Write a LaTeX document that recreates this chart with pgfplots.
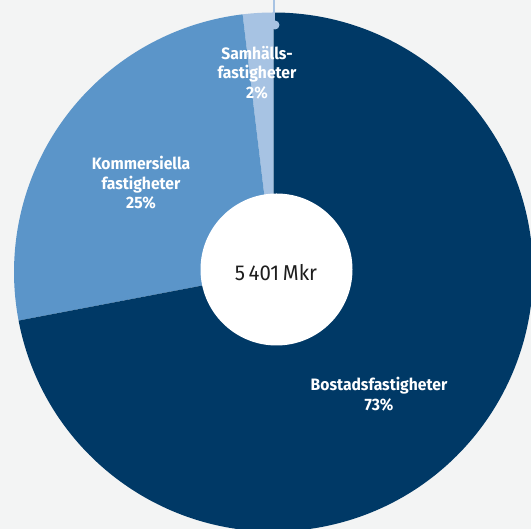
\documentclass[border=0pt]{standalone}
\usepackage{pgfplots}
\pgfplotsset{compat=1.18}
\usepackage{fontspec}
\setmainfont{Fira Sans}[FakeStretch=0.95]
\definecolor{navy}{HTML}{003966}
\definecolor{midblue}{HTML}{5B95C9}
\definecolor{lightblue}{HTML}{A7C3E3}
\definecolor{bg}{HTML}{F3F4F4}
\definecolor{ctext}{HTML}{1E1E1E}
% slice sizes (percent of the full circle)
\def\vS{1.9}   % Samhallsfastigheter
\def\vK{26.1}  % Kommersiella fastigheter
\def\vB{72.0}  % Bostadsfastigheter
\def\R{259.5}
\begin{document}
\begin{tikzpicture}
\pgfmathsetmacro{\aA}{90}
\pgfmathsetmacro{\aB}{\aA+3.6*\vS}
\pgfmathsetmacro{\aC}{\aB+3.6*\vK}
\pgfmathsetmacro{\aD}{\aC+3.6*\vB}
\begin{axis}[x=1pt, y=1pt, xmin=-273.5, xmax=257.5, ymin=-257, ymax=272,
  hide axis, clip=true]
\addplot[draw=none, forget plot] coordinates {(0,0)};
\fill[bg] (rel axis cs:0,0) rectangle (rel axis cs:1,1);
\fill[lightblue] (axis cs:0,0) -- +(\aA:\R pt) arc[start angle=\aA, end angle=\aB, radius=\R pt] -- cycle;
\fill[midblue] (axis cs:0,0) -- +(\aB:\R pt) arc[start angle=\aB, end angle=\aC, radius=\R pt] -- cycle;
\fill[navy] (axis cs:0,0) -- +(\aC:\R pt) arc[start angle=\aC, end angle=\aD, radius=\R pt] -- cycle;
\draw[lightblue, line width=2.5pt] (axis cs:0.5,280) -- (axis cs:0.5,247);
\fill[lightblue] (axis cs:1.5,247) circle[radius=4.5pt];
\fill[white] (axis cs:3,2.5) circle[radius=76pt];
\node[ctext, font=\fontsize{21.5}{25}\selectfont] at (axis cs:2.5,-0.5) {5\,401\,Mkr};
\node[white, font=\bfseries\fontsize{16.5}{19.5}\selectfont, align=center] at (axis cs:105.5,-122) {Bostadsfastigheter\\73\%};
\node[white, font=\bfseries\fontsize{16.5}{19.5}\selectfont, align=center] at (axis cs:-132.5,89) {Kommersiella\\fastigheter\\25\%};
\node[white, font=\bfseries\fontsize{16.5}{19.5}\selectfont, align=center] at (axis cs:-16.5,199.5) {Samhälls-\\fastigheter\\2\%};
\coordinate (bl) at (rel axis cs:0,0);
\coordinate (tr) at (rel axis cs:1,1);
\end{axis}
\pgfresetboundingbox
\useasboundingbox (bl) rectangle (tr);
\end{tikzpicture}
\end{document}
